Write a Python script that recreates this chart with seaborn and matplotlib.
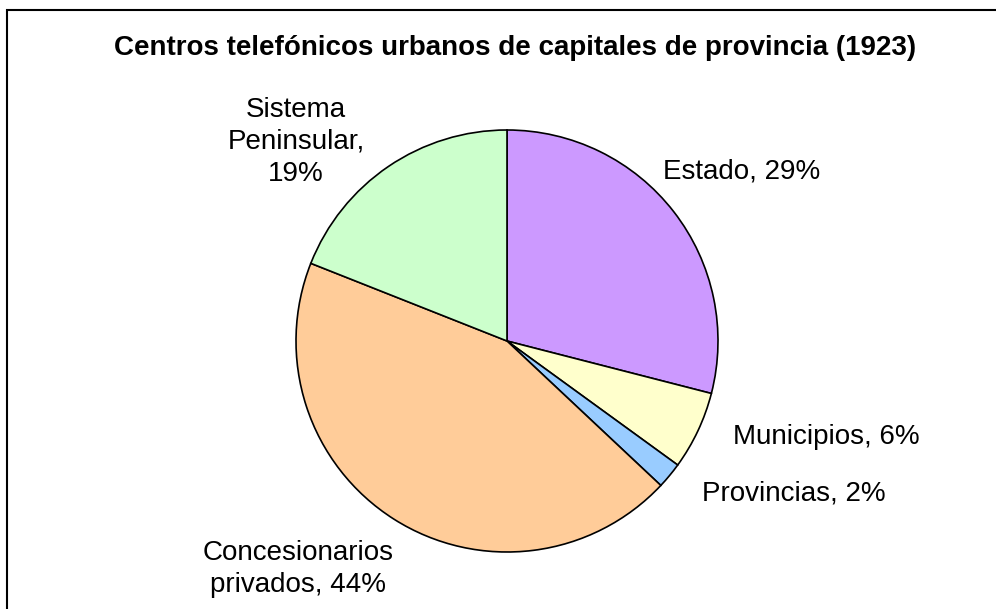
import matplotlib
matplotlib.use("Agg")
import matplotlib.pyplot as plt
import seaborn as sns
from matplotlib.patches import Rectangle

title = "Centros telefónicos urbanos de capitales de provincia (1923)"
categories = ["Estado", "Municipios", "Provincias", "Concesionarios privados", "Sistema Peninsular"]
values = [29, 6, 2, 44, 19]
label_texts = ["Estado, 29%", "Municipios, 6%", "Provincias, 2%",
               "Concesionarios\nprivados, 44%", "Sistema\nPeninsular,\n19%"]
colors = ["#CC99FF", "#FFFFCC", "#99CCFF", "#FFCC99", "#CCFFCC"]

sns.set_theme(style="white")
plt.rcParams['font.family'] = ['Liberation Sans', 'DejaVu Sans']

W, H = 996, 609
cx, cy, R = 507, 341, 211
fig = plt.figure(figsize=(W / 100, H / 100), dpi=100)
fig.patch.set_facecolor("white")
ax = fig.add_axes([0, 0, 1, 1])
ax.set_axis_off()

palette = sns.color_palette(colors)
ax.pie(values, colors=palette, startangle=90, counterclock=False,
       wedgeprops=dict(edgecolor="black", linewidth=1.2), radius=1.0)
ax.set_aspect("auto")
ax.set_xlim(-cx / R, (W - cx) / R)
ax.set_ylim(-(H - cy) / R, cy / R)

# label anchor positions (pixel coords in the figure), layout only
label_pos = [(742, 172), (826, 437), (794, 494), (298, 569), (296, 142)]
for txt, (px, py) in zip(label_texts, label_pos):
    ax.text((px - cx) / R, (cy - py) / R, txt, ha="center", va="center",
            fontsize=20, color="black", linespacing=1.3)

fig.text(515 / W, 1 - 48 / H, title, ha="center", va="center",
         fontsize=20, fontweight="bold", color="black")

fig.patches.append(Rectangle((7 / W, -0.1), 1.2, 1 - 9.5 / H + 0.1, transform=fig.transFigure,
                             fill=False, edgecolor="black", linewidth=1.5))

fig.savefig("out.png", dpi=100)
